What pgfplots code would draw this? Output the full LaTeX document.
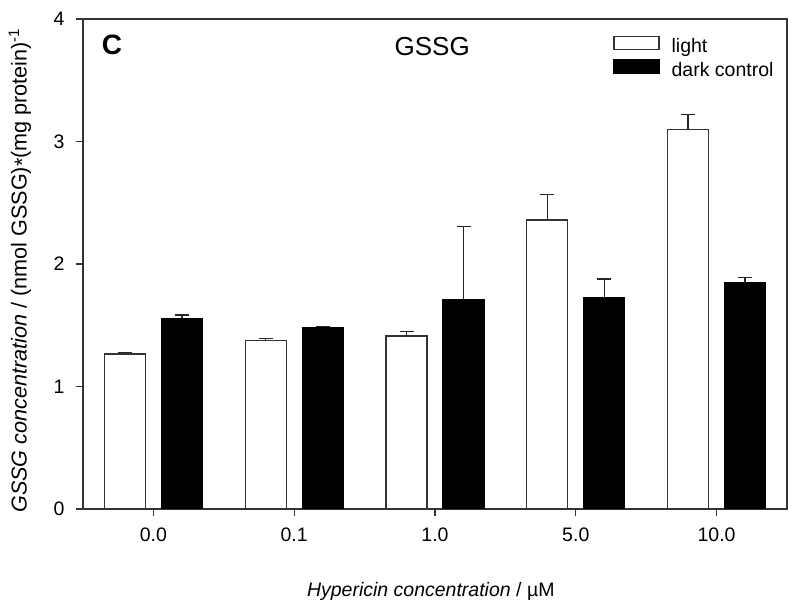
\documentclass[border=0pt]{standalone}
\usepackage{pgfplots}
\pgfplotsset{compat=1.18}
\usepackage{fontspec}
\setmainfont{Liberation Sans}
\newcommand{\fs}[1]{\fontsize{#1bp}{#1bp}\selectfont}
\pgfplotsset{boxlegend/.style={legend image code/.code={\draw[##1] (0bp,-3bp) rectangle (45bp,10bp);}}}
\begin{document}
\begin{tikzpicture}
\begin{axis}[
  at={(83bp,101bp)}, anchor=south west,
  scale only axis, width=704bp, height=490bp,
  xmin=-0.5, xmax=4.5, ymin=0, ymax=4,
  xtick={0,1,2,3,4}, xticklabels={0.0,0.1,1.0,5.0,10.0},
  ytick={0,1,2,3,4},
  tick pos=left, tick align=outside,
  major tick length=7bp,
  axis line style={line width=1.3bp, draw=black!80},
  every tick/.style={line width=1.2bp, black!80},
  ybar=16bp, bar width=41bp,
  tick label style={font=\fs{19.5}},
  xticklabel style={yshift=-8bp},
  yticklabel style={xshift=-8bp},
  /pgf/number format/assume math mode=true,
  xlabel={\textit{Hypericin concentration} / µM},
  xlabel style={font=\fs{19.5}, at={(axis description cs:0.494,-0.169)}, anchor=center},
  ylabel={\textit{GSSG concentration} / (nmol GSSG)\raisebox{-0.25ex}{*}(mg protein)\textsuperscript{-1}},
  ylabel style={font=\fs{21.6}, at={(axis description cs:-0.0895,0.487)}, anchor=center},
  legend style={at={(axis description cs:0.753,0.966)}, anchor=north west, draw=none, fill=none,
    font=\fs{19.5}, inner sep=0pt, row sep=3bp, cells={anchor=west},
    /tikz/every odd column/.append style={column sep=10bp}},
]
\addplot[draw=black!80, fill=white, line width=1.3bp, boxlegend,
  error bars/.cd, y dir=plus, y explicit,
  error bar style={line width=1.3bp, black!85},
  error mark options={rotate=90, mark size=7bp, line width=1.3bp, black!85}]
  table[x=x, y=y, y error=e] {
x y e
0 1.265 0.012
1 1.377 0.012
2 1.412 0.035
3 2.359 0.21
4 3.10 0.12
};
\addlegendentry{light}
\addplot[draw=black, fill=black, line width=1.3bp, boxlegend,
  error bars/.cd, y dir=plus, y explicit,
  error bar style={line width=1.3bp, black!85},
  error mark options={rotate=90, mark size=7bp, line width=1.3bp, black!85}]
  table[x=x, y=y, y error=e] {
x y e
0 1.553 0.03
1 1.483 0.006
2 1.706 0.60
3 1.728 0.15
4 1.847 0.045
};
\addlegendentry{dark control}
\node[font=\fs{26}] at (axis description cs:0.496,0.944) {GSSG};
\node[font=\bfseries\fs{28}] at (axis description cs:0.041,0.947) {C};
\end{axis}
\pgfresetboundingbox
\path (0,0) rectangle (800bp,610bp);
\end{tikzpicture}
\end{document}
